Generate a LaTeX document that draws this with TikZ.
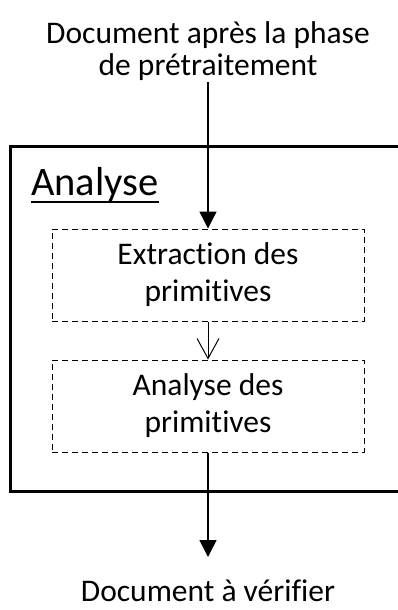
\documentclass[tikz,border=0pt]{standalone}
\usepackage{fontspec}
\setmainfont[Ligatures=NoCommon]{Carlito}
\usetikzlibrary{arrows.meta}
\begin{document}
\begin{tikzpicture}[x=1pt,y=-1pt,
  lbl/.style={font=\fontsize{31.5}{32}\selectfont, align=center, inner sep=0pt},
  sub/.style={draw, dashed, dash pattern=on 6pt off 4pt, line width=1pt, minimum width=312pt, minimum height=92pt, inner sep=0pt, align=center, font=\fontsize{31.5}{37}\selectfont},
  bigarrow/.style={line width=1.5pt, -{Triangle[width=17pt,length=17pt]}},
  smallarrow/.style={line width=1pt, -{Straight Barb[width=22pt,length=20pt]}}]
\useasboundingbox (0,0) rectangle (398,610);
\draw[line width=3pt] (10,146.5) rectangle (404,491);
\node[anchor=base west, font=\fontsize{40.5}{40}\selectfont, inner sep=0pt] (title) at (31,195) {Analyse};
\draw[line width=2.2pt] (title.base west) ++(0,7) coordinate (ul1) -- (title.base east |- ul1);
\node[lbl, anchor=base] (in) at (208,75) {Document après la phase\\de prétraitement};
\node[sub] (b1) at (208,275) {Extraction des\\primitives};
\node[sub] (b2) at (208,406) {Analyse des\\primitives};
\node[lbl, anchor=base, text depth=0pt] (out) at (208,601) {Document à vérifier};
\coordinate (inend) at (208,82);
\coordinate (outend) at (208,557);
\draw[bigarrow] (inend) -- (b1.north);
\draw[smallarrow] (b1.south) -- (b2.north);
\draw[bigarrow] (b2.south) -- (outend);
\end{tikzpicture}
\end{document}
